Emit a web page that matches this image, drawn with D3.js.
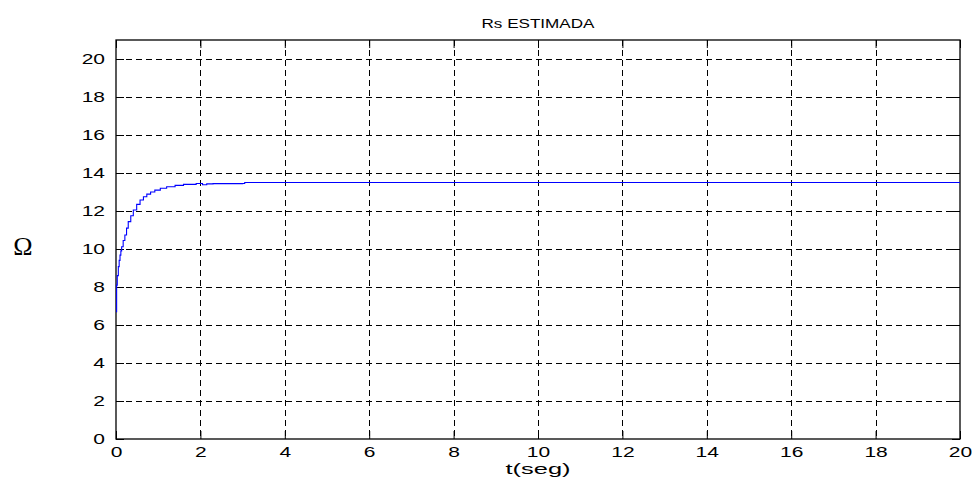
<!DOCTYPE html>
<html><head><meta charset="utf-8">
<script src="https://cdn.jsdelivr.net/npm/d3@7"></script>
<style>body{margin:0;background:#fff}svg{display:block}</style>
</head><body><svg id="c" width="977" height="481" font-family="Liberation Sans, Arial, sans-serif"></svg>
<script>
const title = "Rs ESTIMADA";
const xLabel = "t(seg)";
const yLabel = "Ω";
const xTicks = [0,2,4,6,8,10,12,14,16,18,20];
const yTicks = [0,2,4,6,8,10,12,14,16,18,20];
const tVals = [0, 0.015, 0.03, 0.055, 0.075, 0.095, 0.115, 0.134, 0.17, 0.21, 0.25, 0.29, 0.35, 0.41, 0.49, 0.57, 0.65, 0.73, 0.82, 0.92, 1.05, 1.2, 1.4, 1.6, 1.9, 2.05, 2.15, 2.3, 3.0, 3.05, 20];
const rVals = [6.7, 8.1, 8.6, 9.07, 9.4, 9.68, 9.9, 10.12, 10.45, 10.74, 11.1, 11.44, 11.75, 12.05, 12.35, 12.58, 12.75, 12.89, 13.0, 13.1, 13.2, 13.28, 13.35, 13.4, 13.45, 13.38, 13.43, 13.44, 13.45, 13.5, 13.5];

const svg = d3.select("#c");
const L=116, R=960, T=40, B=439;
const x = d3.scaleLinear().domain([0,20]).range([L,R]);
const y = d3.scaleLinear().domain([0,21]).range([B,T]);

// grid
const g = svg.append("g");
g.selectAll(".gx").data(xTicks.filter(d=>d>0&&d<20)).enter().append("line")
 .attr("x1",d=>Math.round(x(d))+0.5).attr("x2",d=>Math.round(x(d))+0.5).attr("y1",T).attr("y2",B)
 .attr("stroke","#000").attr("stroke-width",1).attr("stroke-dasharray","6,4");
g.selectAll(".gy").data(yTicks.filter(d=>d>0)).enter().append("line")
 .attr("y1",d=>Math.round(y(d))+0.5).attr("y2",d=>Math.round(y(d))+0.5).attr("x1",L).attr("x2",R)
 .attr("stroke","#000").attr("stroke-width",1).attr("stroke-dasharray","6,4");

const SX = 1.5;
// axes
const xa = svg.append("g").attr("transform",`translate(0,${B})`)
 .call(d3.axisBottom(x).tickValues(xTicks).tickSizeInner(-8).tickSizeOuter(0).tickPadding(8));
const xt = svg.append("g").attr("transform",`translate(0,${T})`)
 .call(d3.axisTop(x).tickValues(xTicks).tickSizeInner(-8).tickSizeOuter(0).tickFormat(""));
const ya = svg.append("g").attr("transform",`translate(${L},0)`)
 .call(d3.axisLeft(y).tickValues(yTicks).tickSizeInner(-8).tickSizeOuter(0).tickPadding(11/SX));
const yr = svg.append("g").attr("transform",`translate(${R},0)`)
 .call(d3.axisRight(y).tickValues(yTicks).tickSizeInner(-8).tickSizeOuter(0).tickFormat(""));
[xa,xt,ya,yr].forEach(a=>{
  a.attr("font-family",null).attr("font-size",null);
  a.selectAll("path").remove();
  a.selectAll("line").attr("stroke","#000");
  a.selectAll("text").style("font-size","14px").style("font-family","'Liberation Sans', Arial, sans-serif").attr("fill","#000")
   .attr("transform",`scale(${SX},1)`);
});
// box
svg.append("rect").attr("x",L).attr("y",T).attr("width",R-L).attr("height",B-T)
 .attr("fill","none").attr("stroke","#000").attr("stroke-width",1.3);

// line
const data = tVals.map((t,i)=>[t,rVals[i]]);
svg.append("path").datum(data)
 .attr("d",d3.line().x(d=>x(d[0])).y(d=>y(d[1])).curve(d3.curveStepAfter))
 .attr("fill","none").attr("stroke","#0000ff").attr("stroke-width",1.1);

svg.append("text").attr("x",(L+R)/2).attr("y",28).attr("text-anchor","middle").style("font-size","13px")
 .attr("textLength",113).attr("lengthAdjust","spacingAndGlyphs").text(title);
svg.append("text").attr("x",(L+R)/2).attr("y",474).attr("text-anchor","middle").style("font-size","14px")
 .attr("textLength",65).attr("lengthAdjust","spacingAndGlyphs").text(xLabel);
svg.append("text").attr("x",23).attr("y",255).attr("text-anchor","middle").style("font-size","26px")
 .style("font-family","'Liberation Serif', 'Times New Roman', serif").text(yLabel);
</script></body></html>
